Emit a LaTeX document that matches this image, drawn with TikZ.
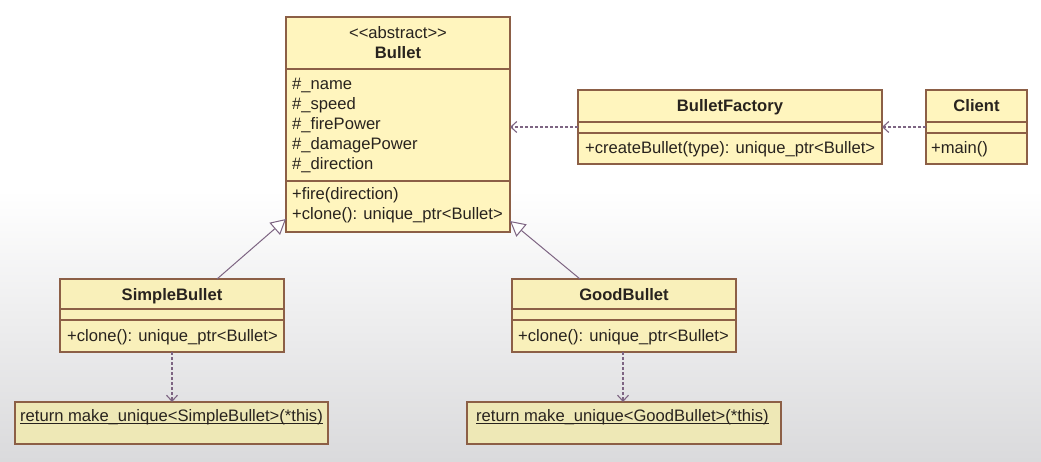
\documentclass[tikz,border=0pt]{standalone}
\usepackage{fontspec}
\setmainfont{Liberation Sans}
\usetikzlibrary{arrows.meta}
\definecolor{boxfillA}{RGB}{255,245,190}
\definecolor{boxfillB}{RGB}{249,240,186}
\definecolor{boxfillC}{RGB}{238,232,182}
\definecolor{boxline}{RGB}{140,95,70}
\definecolor{arrowline}{RGB}{125,100,130}
\definecolor{txt}{RGB}{40,35,30}
\definecolor{bgbottom}{RGB}{218,218,220}
\tikzset{
  umlbox/.style={draw=boxline, line width=1.2pt, anchor=north west, inner sep=0pt, outer sep=0pt},
  sepline/.style={draw=boxline, line width=1.2pt},
  lbl/.style={anchor=west, inner sep=0pt, text=txt, font=\fontsize{16.6}{18}\selectfont, text height=11pt, text depth=3.5pt, yshift=-2pt},
  title/.style={anchor=center, inner sep=0pt, text=txt, font=\fontsize{16.6}{18}\selectfont\bfseries, text height=11pt, text depth=3.5pt, yshift=-2pt},
  stereo/.style={anchor=center, inner sep=0pt, text=txt, font=\fontsize{16.6}{18}\selectfont, text height=11pt, text depth=3.5pt, yshift=-2pt},
  notetext/.style={anchor=base west, inner sep=0pt, text=txt, font=\fontsize{16.6}{18}\selectfont},
  uline/.style={draw=txt, line width=0.9pt},
  depend/.style={draw=arrowline, line width=1.1pt, dash pattern=on 3pt off 2pt, -{Straight Barb[length=6pt,width=11pt]}},
  inherit/.style={draw=arrowline, line width=1pt, -{Triangle[open, fill=white, length=15pt, width=16pt]}}
}
\begin{document}
\begin{tikzpicture}[x=1pt,y=-1pt]
\useasboundingbox (0,0) rectangle (1041,461);
\fill[white] (0,0) rectangle (1041,461);
\shade[top color=white, bottom color=bgbottom] (0,190) rectangle (1041,461);

% Bullet
\node[umlbox, fill=boxfillA, minimum width=224pt, minimum height=215pt] (bullet) at (286,17) {};
\draw[sepline] (286,69) -- (510,69);
\draw[sepline] (286,181) -- (510,181);
\node[stereo] (bst) at (398,33) {{<}{<}abstract{>}{>}};
\node[title] (bname) at (398,53) {Bullet};
\node[lbl] (ba1) at (292,84) {\#\_name};
\node[lbl] (ba2) at (292,104) {\#\_speed};
\node[lbl] (ba3) at (292,124) {\#\_firePower};
\node[lbl] (ba4) at (292,144) {\#\_damagePower};
\node[lbl] (ba5) at (292,164) {\#\_direction};
\node[lbl] (bm1) at (292,194) {+fire(direction)};
\node[lbl] (bm2) at (292,214) {+clone(): unique\_ptr<Bullet>};

% BulletFactory
\node[umlbox, fill=boxfillA, minimum width=304pt, minimum height=74pt] (factory) at (578,90) {};
\draw[sepline] (578,122) -- (882,122);
\draw[sepline] (578,133) -- (882,133);
\node[title] (fname) at (730,106) {BulletFactory};
\node[lbl] (fm1) at (585,148) {+createBullet(type): unique\_ptr<Bullet>};

% Client
\node[umlbox, fill=boxfillA, minimum width=101pt, minimum height=74pt] (client) at (926,90) {};
\draw[sepline] (926,122) -- (1027,122);
\draw[sepline] (926,133) -- (1027,133);
\node[title] (cname) at (976.5,106) {Client};
\node[lbl] (cm1) at (931,148) {+main()};

% SimpleBullet
\node[umlbox, fill=boxfillB, minimum width=224pt, minimum height=73pt] (simple) at (60,279) {};
\draw[sepline] (60,309) -- (284,309);
\draw[sepline] (60,320) -- (284,320);
\node[title] (sname) at (172,295) {SimpleBullet};
\node[lbl] (sm1) at (67,336) {+clone(): unique\_ptr<Bullet>};

% GoodBullet
\node[umlbox, fill=boxfillB, minimum width=224pt, minimum height=73pt] (good) at (512,279) {};
\draw[sepline] (512,309) -- (736,309);
\draw[sepline] (512,320) -- (736,320);
\node[title] (gname) at (624,295) {GoodBullet};
\node[lbl] (gm1) at (518,336) {+clone(): unique\_ptr<Bullet>};

% Notes
\node[umlbox, fill=boxfillC, minimum width=313pt, minimum height=42pt] (snote) at (15,402) {};
\node[notetext] (snt) at (20,421) {return make\_unique<SimpleBullet>(*this)};
\draw[uline] ([yshift=-2pt]snt.base west) -- ([yshift=-2pt]snt.base east);
\node[umlbox, fill=boxfillC, minimum width=314pt, minimum height=42pt] (gnote) at (467,402) {};
\node[notetext] (gnt) at (476,421) {return make\_unique<GoodBullet>(*this)};
\draw[uline] ([yshift=-2pt]gnt.base west) -- ([yshift=-2pt]gnt.base east);

% Connectors
\draw[depend] (factory.west |- 0,127) -- (bullet.east |- 0,127);
\draw[depend] (client.west |- 0,127) -- (factory.east |- 0,127);
\draw[depend] (simple.south -| 172,0) -- (snote.north -| 172,0);
\draw[depend] (good.south -| 623,0) -- (gnote.north -| 623,0);
\draw[inherit] (simple.north -| 217,0) -- (bullet.west |- 0,219);
\draw[inherit] (good.north -| 580,0) -- (bullet.east |- 0,221);
\end{tikzpicture}
\end{document}
